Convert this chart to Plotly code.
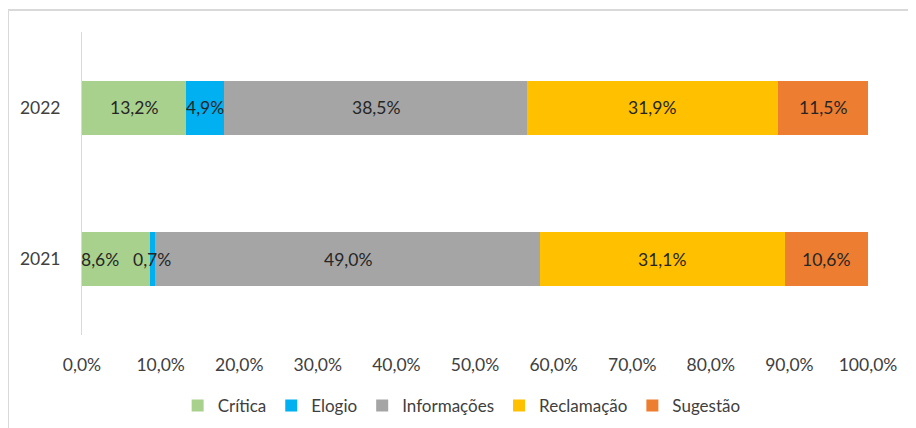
import plotly.graph_objects as go

years = ["2021", "2022"]
categories = ["Crítica", "Elogio", "Informações", "Reclamação", "Sugestão"]
values_2021 = [8.6, 0.7, 49.0, 31.1, 10.6]
values_2022 = [13.2, 4.9, 38.5, 31.9, 11.5]
colors = ["#A9D18E", "#00B0F0", "#A5A5A5", "#FFC000", "#ED7D31"]
tick_vals = [0, 10, 20, 30, 40, 50, 60, 70, 80, 90, 100]
tick_labels = ["0,0%", "10,0%", "20,0%", "30,0%", "40,0%", "50,0%",
               "60,0%", "70,0%", "80,0%", "90,0%", "100,0%"]

FONT = "Lato"
FS = 17.5
series = [[values_2021[i], values_2022[i]] for i in range(len(categories))]

fig = go.Figure()
for name, vals, col in zip(categories, series, colors):
    fig.add_trace(go.Bar(
        y=years, x=vals, name=name, orientation="h",
        marker=dict(color=col, line=dict(width=0)),
        width=0.355, hoverinfo="skip",
    ))

annotations = []
for yi, yr in enumerate(years):
    cum = 0
    for ci in range(len(categories)):
        v = series[ci][yi]
        shift = -16 if (yr == "2021" and ci == 0) else 0
        annotations.append(dict(
            x=cum + v / 2, y=yi, xref="x", yref="y",
            text=f"{v:.1f}%".replace(".", ","), showarrow=False,
            xshift=shift,
            font=dict(family=FONT, size=FS, color="#262626"),
        ))
        cum += v

fig.update_layout(
    template="none",
    barmode="stack",
    width=916, height=428,
    margin=dict(l=74, r=56, t=24, b=101),
    paper_bgcolor="white", plot_bgcolor="white",
    font=dict(family=FONT, size=FS, color="#404040"),
    showlegend=True,
    legend=dict(orientation="h", x=0.483, xanchor="center", y=-0.234, yanchor="middle",
                font=dict(family=FONT, size=17, color="#404040"),
                itemwidth=30, tracegroupgap=0, traceorder="normal"),
    annotations=annotations,
    shapes=[dict(type="rect", xref="paper", yref="paper",
                 x0=(0 - 74) / 786, x1=1.2, y0=-0.5, y1=1 + 22 / 303,
                 line=dict(color="#D9D9D9", width=2), fillcolor="rgba(0,0,0,0)", layer="below")],
)
fig.update_xaxes(type="linear", range=[0, 100], tickvals=tick_vals, ticktext=tick_labels,
                 showgrid=False, zeroline=False, showline=False, ticks="",
                 automargin=False,
                 ticklabelstandoff=17, tickfont=dict(family=FONT, size=FS, color="#404040"),
                 fixedrange=True)
fig.update_yaxes(type="category", range=[-0.5, 1.5], categoryorder="array", categoryarray=years,
                 showgrid=False, zeroline=False, showline=True, linecolor="#D9D9D9", linewidth=1,
                 automargin=False,
                 ticks="", ticklabelstandoff=17, tickfont=dict(family=FONT, size=FS, color="#404040"),
                 fixedrange=True)

fig.write_html("out.html")
